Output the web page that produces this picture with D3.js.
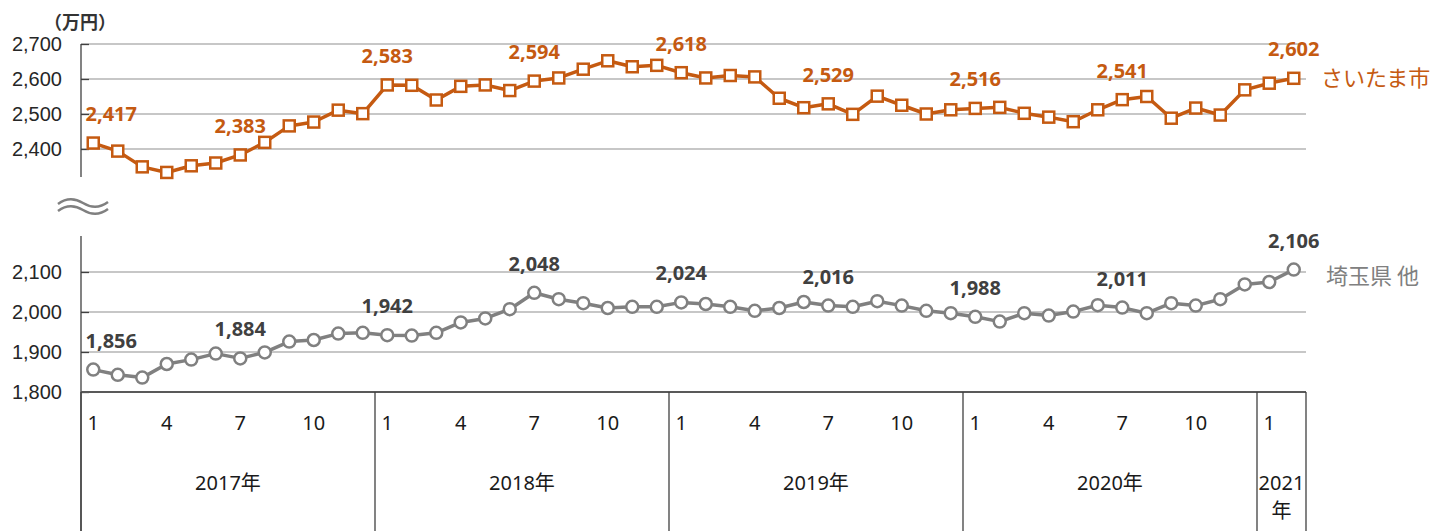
<!DOCTYPE html>
<html>
<head>
<meta charset="utf-8">
<script src="https://d3js.org/d3.v7.min.js"></script>
<style>
  body { margin: 0; background: #fff; }
  svg { display: block; font-family: "Noto Sans", "Noto Sans CJK JP", sans-serif; }
</style>
</head>
<body>
<div id="chart"></div>
<script>
// monthly values (万円), Jan 2017 - Feb 2021
var saitamaCity = [2417, 2394, 2349, 2333, 2352, 2360, 2383, 2419, 2466, 2477, 2511, 2501,
                   2583, 2582, 2540, 2579, 2583, 2567, 2594, 2603, 2628, 2652, 2635, 2639,
                   2618, 2603, 2610, 2606, 2545, 2518, 2529, 2499, 2551, 2525, 2500, 2512,
                   2516, 2519, 2502, 2491, 2478, 2512, 2541, 2550, 2488, 2517, 2497, 2569,
                   2588, 2602];
var saitamaOther = [1856, 1843, 1836, 1870, 1881, 1896, 1884, 1899, 1926, 1930, 1946, 1948,
                    1942, 1941, 1948, 1974, 1984, 2007, 2048, 2032, 2022, 2010, 2013, 2013,
                    2024, 2020, 2013, 2003, 2010, 2025, 2016, 2013, 2027, 2016, 2003, 1997,
                    1988, 1976, 1997, 1991, 2001, 2017, 2011, 1997, 2022, 2016, 2032, 2069,
                    2075, 2106];
var years = ["2017年", "2018年", "2019年", "2020年", "2021年"];
var yearMonths = [12, 12, 12, 12, 2];
var monthTicks = [1, 4, 7, 10];
var labelIdx = [0, 6, 12, 18, 24, 30, 36, 42, 49];
var topTicks = [2400, 2500, 2600, 2700];
var bottomTicks = [1800, 1900, 2000, 2100];
var seriesNames = ["さいたま市", "埼玉県 他"];

var orange = "#C55A11", gray = "#808080";
var width = 1452, height = 531;

var svg = d3.select("#chart").append("svg")
    .attr("width", width)
    .attr("height", height);

// months as category band
var months = d3.range(saitamaCity.length);
var x = d3.scaleBand().domain(months).range([81, 1306]);
var cx = function (i) { return x(i) + x.bandwidth() / 2; };

var yTop = d3.scaleLinear().domain([2320, 2700]).range([177, 44]);
var yBot = d3.scaleLinear().domain([1800, 2190]).range([392, 236]);

// gridlines
svg.append("g").selectAll("line")
    .data(topTicks)
    .enter().append("line")
    .attr("x1", 81).attr("x2", 1306)
    .attr("y1", d => yTop(d)).attr("y2", d => yTop(d))
    .attr("stroke", "#B4B4B4").attr("stroke-width", 1.3);

svg.append("g").selectAll("line")
    .data(bottomTicks.slice(1))
    .enter().append("line")
    .attr("x1", 81).attr("x2", 1306)
    .attr("y1", d => yBot(d)).attr("y2", d => yBot(d))
    .attr("stroke", "#B4B4B4").attr("stroke-width", 1.3);

// y axes
function styleAxis(g) {
    g.select(".domain").remove();
    g.selectAll(".tick line").attr("stroke", "#404040").attr("stroke-width", 1.3);
    g.selectAll(".tick text")
        .attr("fill", "#262626")
        .attr("font-size", "20px");
}

svg.append("g")
    .attr("transform", "translate(81,0)")
    .call(d3.axisLeft(yTop).tickValues(topTicks).tickFormat(d3.format(",")).tickSize(-8).tickPadding(19))
    .call(styleAxis);

svg.append("g")
    .attr("transform", "translate(81,0)")
    .call(d3.axisLeft(yBot).tickValues(bottomTicks).tickFormat(d3.format(",")).tickSize(-8).tickPadding(19))
    .call(styleAxis);

// vertical axis lines
svg.append("line")
    .attr("x1", 81).attr("x2", 81)
    .attr("y1", yTop(2700)).attr("y2", yTop(2320))
    .attr("stroke", "#404040").attr("stroke-width", 1.3);
svg.append("line")
    .attr("x1", 81).attr("x2", 81)
    .attr("y1", yBot(2190)).attr("y2", height)
    .attr("stroke", "#404040").attr("stroke-width", 1.3);

// category axis line
svg.append("line")
    .attr("x1", 81).attr("x2", 1306)
    .attr("y1", yBot(1800)).attr("y2", yBot(1800))
    .attr("stroke", "#595959").attr("stroke-width", 1.8);

// year separators
var yearStart = [0];
yearMonths.forEach(function (m, i) { yearStart.push(yearStart[i] + m); });

svg.append("g").selectAll("line")
    .data(yearStart)
    .enter().append("line")
    .attr("x1", d => d < months.length ? x(d) : x.range()[1])
    .attr("x2", d => d < months.length ? x(d) : x.range()[1])
    .attr("y1", yBot(1800)).attr("y2", height)
    .attr("stroke", "#404040").attr("stroke-width", 1.3);

// month labels
var monthLabels = months.filter(function (i) { return monthTicks.indexOf(i % 12 + 1) >= 0; });
svg.append("g").selectAll("text")
    .data(monthLabels)
    .enter().append("text")
    .attr("x", d => cx(d))
    .attr("y", 430)
    .attr("text-anchor", "middle")
    .attr("font-size", "20px")
    .attr("fill", "#1a1a1a")
    .text(d => d % 12 + 1);

// year labels
years.forEach(function (yr, i) {
    var x0 = x(yearStart[i]);
    var x1 = yearStart[i + 1] < months.length ? x(yearStart[i + 1]) : x.range()[1];
    var t = svg.append("text")
        .attr("text-anchor", "middle")
        .attr("font-size", "20px")
        .attr("fill", "#1a1a1a");
    if (yearMonths[i] < 12) {
        t.append("tspan").attr("x", (x0 + x1) / 2).attr("y", 490).text(yr.slice(0, 4));
        t.append("tspan").attr("x", (x0 + x1) / 2).attr("y", 518).text(yr.slice(4));
    } else {
        t.attr("x", (x0 + x1) / 2).attr("y", 490).text(yr);
    }
});

// lines
var lineTop = d3.line().x((d, i) => cx(i)).y(d => yTop(d));
var lineBot = d3.line().x((d, i) => cx(i)).y(d => yBot(d));

svg.append("path")
    .datum(saitamaCity)
    .attr("d", lineTop)
    .attr("fill", "none")
    .attr("stroke", orange)
    .attr("stroke-width", 3.5)
    .attr("stroke-linejoin", "round");

svg.append("path")
    .datum(saitamaOther)
    .attr("d", lineBot)
    .attr("fill", "none")
    .attr("stroke", gray)
    .attr("stroke-width", 3.5)
    .attr("stroke-linejoin", "round");

// markers
svg.append("g").selectAll("rect")
    .data(saitamaCity)
    .enter().append("rect")
    .attr("x", (d, i) => cx(i) - 5.5)
    .attr("y", d => yTop(d) - 5.5)
    .attr("width", 11).attr("height", 11)
    .attr("fill", "#fff")
    .attr("stroke", orange)
    .attr("stroke-width", 2.5);

svg.append("g").selectAll("circle")
    .data(saitamaOther)
    .enter().append("circle")
    .attr("cx", (d, i) => cx(i))
    .attr("cy", d => yBot(d))
    .attr("r", 6)
    .attr("fill", "#fff")
    .attr("stroke", gray)
    .attr("stroke-width", 2.5);

// data labels
svg.append("g").selectAll("text")
    .data(labelIdx)
    .enter().append("text")
    .attr("x", d => cx(d) + (d === 0 ? 18 : 0))
    .attr("y", d => yTop(saitamaCity[d]) - 22)
    .attr("text-anchor", "middle")
    .attr("font-size", "20px")
    .attr("font-weight", "bold")
    .attr("fill", orange)
    .text(d => d3.format(",")(saitamaCity[d]));

svg.append("g").selectAll("text")
    .data(labelIdx)
    .enter().append("text")
    .attr("x", d => cx(d) + (d === 0 ? 18 : 0))
    .attr("y", d => yBot(saitamaOther[d]) - 22)
    .attr("text-anchor", "middle")
    .attr("font-size", "20px")
    .attr("font-weight", "bold")
    .attr("fill", "#404040")
    .text(d => d3.format(",")(saitamaOther[d]));

// series names
svg.append("text")
    .attr("x", 1321)
    .attr("y", yTop(saitamaCity[saitamaCity.length - 1]) + 8)
    .attr("font-size", "22px")
    .attr("fill", orange)
    .attr("font-family", "'Noto Sans CJK JP', sans-serif")
    .text(seriesNames[0]);

svg.append("text")
    .attr("x", 1326)
    .attr("y", yBot(saitamaOther[saitamaOther.length - 1]) + 14)
    .attr("font-size", "22px")
    .attr("fill", gray)
    .attr("font-family", "'Noto Sans CJK JP', sans-serif")
    .text(seriesNames[1]);

// unit
svg.append("text")
    .attr("x", 44)
    .attr("y", 29)
    .attr("font-size", "18px")
    .attr("font-weight", "bold")
    .attr("fill", "#333")
    .attr("font-family", "'Noto Sans CJK JP', sans-serif")
    .text("（万円）");

// axis break mark
var wave = svg.append("g").attr("fill", "none").attr("stroke", gray).attr("stroke-width", 2.5);
[0, 7].forEach(function (off) {
    wave.append("path")
        .attr("d", "M58," + (204 + off) + " q12,-9 25,-1 t25,-1");
});
</script>
</body>
</html>
